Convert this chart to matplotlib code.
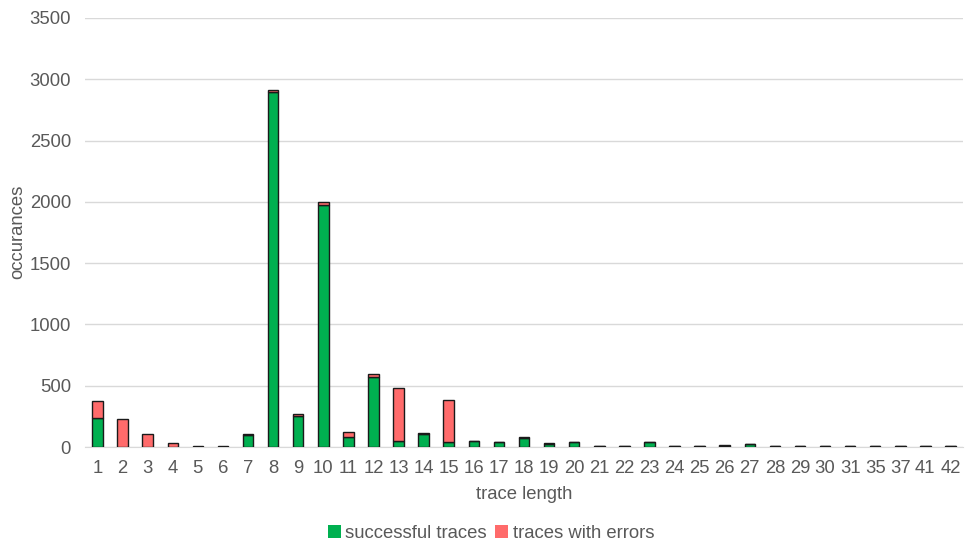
import matplotlib
matplotlib.use("Agg")
import matplotlib.pyplot as plt
from matplotlib.patches import Patch
import numpy as np

plt.rcParams['font.family'] = ['Liberation Sans', 'DejaVu Sans']

trace_lengths = [str(v) for v in list(range(1, 32)) + [35, 37, 41, 42]]
successful = [235, 0, 0, 0, 4, 4, 95, 2900, 250, 1975, 85, 570, 45, 105, 40,
              45, 38, 75, 28, 40, 5, 5, 40, 5, 5, 5, 22, 5, 5, 5, 5, 5, 5, 5, 5]
with_errors = [140, 225, 105, 30, 5, 5, 15, 12, 20, 20, 40, 25, 435, 10, 340,
               5, 4, 5, 2, 4, 3, 3, 2, 3, 4, 8, 2, 3, 3, 3, 3, 3, 3, 3, 4]

green = '#00B050'
red = '#FF6B6B'
text_col = '#595959'
fs = 13.3

fig = plt.figure(figsize=(9.66, 5.48), dpi=100)
ax = fig.add_axes([85 / 966, 1 - 447 / 548, 878 / 966, 429 / 548])

x = np.arange(len(trace_lengths))
w = 0.42
ax.bar(x, successful, width=w, color=green, edgecolor='#1a1a1a', linewidth=1.0,
       label='successful traces', zorder=3)
ax.bar(x, with_errors, width=w, bottom=successful, color=red, edgecolor='#1a1a1a',
       linewidth=1.0, label='traces with errors', zorder=3)

ax.set_xlim(-0.5, len(trace_lengths) - 0.5)
ax.set_ylim(0, 3500)
ax.set_yticks(range(0, 3501, 500))
ax.set_xticks(x)
ax.set_xticklabels(trace_lengths)
ax.grid(axis='y', color='#d9d9d9', linewidth=1.0, zorder=0)
for s in ['top', 'right', 'left']:
    ax.spines[s].set_visible(False)
ax.spines['bottom'].set_color('#d9d9d9')
ax.tick_params(axis='both', length=0, labelsize=fs, colors=text_col)
ax.tick_params(axis='y', pad=10)
ax.tick_params(axis='x', pad=9.5)

ax.set_xlabel('trace length', fontsize=fs, color=text_col, labelpad=6)
fig.text(18 / 966, 1 - 232 / 548, 'occurances', rotation=90, ha='center',
         va='center', fontsize=fs, color=text_col)

labels = ['successful traces', 'traces with errors']
handles = [Patch(facecolor=green), Patch(facecolor=red)]
fig.legend(handles, labels, loc='center', bbox_to_anchor=(491 / 966, 1 - 533 / 548),
           ncol=2, frameon=False, fontsize=fs, handlelength=0.7, handleheight=0.7,
           handletextpad=0.25, columnspacing=0.45, labelcolor=text_col)

fig.savefig('out.png', dpi=100)
